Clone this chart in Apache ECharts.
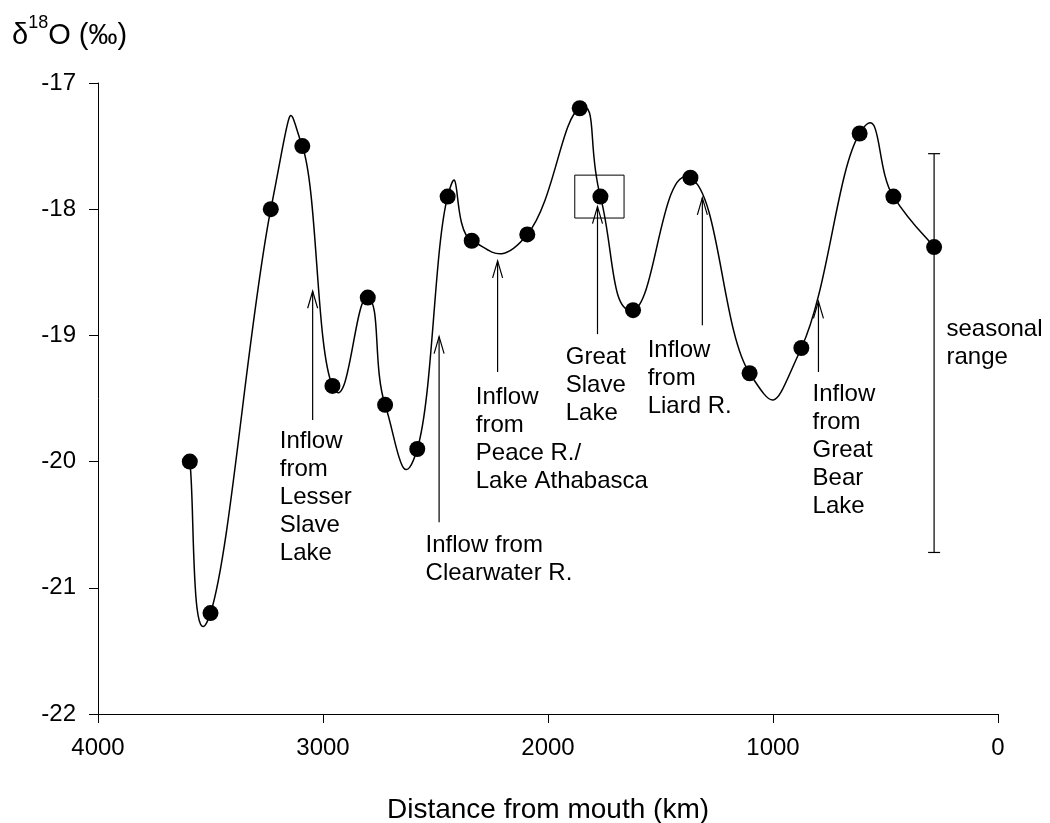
<!DOCTYPE html>
<html><head><meta charset="utf-8">
<script src="https://cdn.jsdelivr.net/npm/echarts@6/dist/echarts.min.js"></script>
<style>html,body{margin:0;padding:0;background:#fff}#c{width:1050px;height:823px}</style>
</head><body><div id="c"></div>
<script>
// ---- data ----
const distanceKm = [3592, 3500, 3232, 3092, 2958, 2801, 2724, 2581, 2446, 2339, 2092, 1859, 1767, 1622, 1367, 1104, 874, 615, 465, 284];
const delta18O   = [-20.0, -21.2, -18.0, -17.5, -19.4, -18.7, -19.55, -19.9, -17.9, -18.25, -18.2, -17.2, -17.9, -18.8, -17.75, -19.3, -19.1, -17.4, -17.9, -18.3];
const xTickValues = [4000, 3000, 2000, 1000, 0];
const yTickValues = [-17, -18, -19, -20, -21, -22];

// annotation arrows (data units): x, tip, base
const arrowX    = [3046, 2484, 2224, 1780, 1314, 798];
const arrowTip  = [-18.65, -19.01, -18.41, -17.98, -17.91, -18.73];
const arrowBase = [-19.67, -20.48, -19.29, -18.99, -18.92, -19.29];

// annotation texts, anchored at top-left (data units)
const labelText = [
  'Inflow\nfrom\nLesser\nSlave\nLake',
  'Inflow from\nClearwater R.',
  'Inflow\nfrom\nPeace R./\nLake Athabasca',
  'Great\nSlave\nLake',
  'Inflow\nfrom\nLiard R.',
  'Inflow\nfrom\nGreat\nBear\nLake',
  'seasonal\nrange'
];
const labelX = [3192, 2544, 2321, 1921, 1557, 824, 229];
const labelY = [-19.73, -20.55, -19.38, -19.06, -19.01, -19.36, -18.84];

// seasonal range bar
const rangeX = [284];
const rangeTop = [-17.56];
const rangeBottom = [-20.72];

// box around Great Slave Lake point
const boxX = [1881, 1662];
const boxY = [-17.73, -18.07];

// ---- chart ----
const FONT = "'Liberation Sans', Arial, Helvetica, sans-serif";
const SMOOTH_K = 0.25;
const chart = echarts.init(document.getElementById('c'), null, {renderer: 'canvas'});

const segments = distanceKm.slice(0, -1).map((d, i) => [d, delta18O[i], distanceKm[i + 1], delta18O[i + 1]]);

const option = {
  backgroundColor: '#fff',
  animation: false,
  grid: {left: 98, right: 52, top: 83, bottom: 109, containLabel: false, outerBoundsMode: 'none'},
  xAxis: {
    type: 'value', inverse: true, min: 0, max: 4000, interval: 1000,
    name: 'Distance from mouth (km)', nameLocation: 'middle', nameGap: 82,
    nameTextStyle: {fontFamily: FONT, fontSize: 28, color: '#000'},
    axisLine: {show: true, onZero: false, lineStyle: {color: '#000', width: 1}},
    axisTick: {show: true, inside: false, length: 9, lineStyle: {color: '#000', width: 1}},
    axisLabel: {fontFamily: FONT, fontSize: 24, color: '#000', margin: 22,
      formatter: v => xTickValues.includes(v) ? String(v) : ''},
    splitLine: {show: false}
  },
  yAxis: {
    type: 'value', min: -22, max: -17, interval: 1,
    axisLine: {show: true, onZero: false, lineStyle: {color: '#000', width: 1}},
    axisTick: {show: true, inside: false, length: 9, lineStyle: {color: '#000', width: 1}},
    axisLabel: {fontFamily: FONT, fontSize: 24, color: '#000', margin: 22,
      formatter: v => yTickValues.includes(v) ? String(v) : ''},
    splitLine: {show: false}
  },
  graphic: [{
    type: 'text', left: 12, top: 14,
    style: {
      text: '{a|δ}{b|18}{a|O (‰)}',
      rich: {
        a: {fontFamily: FONT, fontSize: 29, lineHeight: 36, fill: '#000', verticalAlign: 'bottom'},
        b: {fontFamily: FONT, fontSize: 18, lineHeight: 22, fill: '#000', verticalAlign: 'top'}
      }
    }
  }],
  series: [
    {
      // smoothed curve through the samples (cardinal spline, pixel space via axis scales)
      type: 'custom', name: 'curve', silent: true,
      data: segments,
      encode: {x: [0, 2], y: [1, 3]},
      renderItem: (params, api) => {
        const i = params.dataIndex;
        const n = distanceKm.length;
        const pt = j => api.coord([distanceKm[j], delta18O[j]]);
        const p0 = pt(Math.max(i - 1, 0)), p1 = pt(i), p2 = pt(i + 1), p3 = pt(Math.min(i + 2, n - 1));
        return {
          type: 'bezierCurve',
          shape: {
            x1: p1[0], y1: p1[1], x2: p2[0], y2: p2[1],
            cpx1: p1[0] + SMOOTH_K * (p2[0] - p0[0]), cpy1: p1[1] + SMOOTH_K * (p2[1] - p0[1]),
            cpx2: p2[0] - SMOOTH_K * (p3[0] - p1[0]), cpy2: p2[1] - SMOOTH_K * (p3[1] - p1[1])
          },
          style: {stroke: '#000', fill: null, lineWidth: 1.5}
        };
      },
      z: 4
    },
    {
      type: 'scatter', name: 'δ18O',
      data: distanceKm.map((d, i) => [d, delta18O[i]]),
      symbol: 'circle', symbolSize: 16,
      itemStyle: {color: '#000', opacity: 1},
      z: 5
    },
    {
      type: 'custom', name: 'arrows', silent: true,
      data: arrowX.map((x, i) => [x, arrowTip[i], arrowBase[i]]),
      encode: {x: 0, y: [1, 2]},
      renderItem: (params, api) => {
        const tip = api.coord([api.value(0), api.value(1)]);
        const base = api.coord([api.value(0), api.value(2)]);
        return {
          type: 'group', children: [
            {type: 'line', shape: {x1: base[0], y1: base[1], x2: tip[0], y2: tip[1]},
             style: {stroke: '#000', lineWidth: 1.2}},
            {type: 'polyline', shape: {points: [[tip[0] - 5, tip[1] + 17], [tip[0], tip[1]], [tip[0] + 5, tip[1] + 17]]},
             style: {stroke: '#000', fill: null, lineWidth: 1.2}}
          ]
        };
      },
      z: 3
    },
    {
      type: 'custom', name: 'range', silent: true,
      data: rangeX.map((x, i) => [x, rangeTop[i], rangeBottom[i]]),
      encode: {x: 0, y: [1, 2]},
      renderItem: (params, api) => {
        const t = api.coord([api.value(0), api.value(1)]);
        const b = api.coord([api.value(0), api.value(2)]);
        return {
          type: 'group', children: [
            {type: 'line', shape: {x1: t[0], y1: t[1], x2: b[0], y2: b[1]}, style: {stroke: '#000', lineWidth: 1.2}},
            {type: 'line', shape: {x1: t[0] - 6, y1: t[1], x2: t[0] + 6, y2: t[1]}, style: {stroke: '#000', lineWidth: 1.2}},
            {type: 'line', shape: {x1: b[0] - 6, y1: b[1], x2: b[0] + 6, y2: b[1]}, style: {stroke: '#000', lineWidth: 1.2}}
          ]
        };
      },
      z: 3
    },
    {
      type: 'custom', name: 'box', silent: true,
      data: [[boxX[0], boxY[0], boxX[1], boxY[1]]],
      encode: {x: [0, 2], y: [1, 3]},
      renderItem: (params, api) => {
        const p1 = api.coord([api.value(0), api.value(1)]);
        const p2 = api.coord([api.value(2), api.value(3)]);
        return {
          type: 'rect',
          shape: {x: Math.min(p1[0], p2[0]), y: Math.min(p1[1], p2[1]),
                  width: Math.abs(p2[0] - p1[0]), height: Math.abs(p2[1] - p1[1])},
          style: {stroke: '#000', fill: null, lineWidth: 1}
        };
      },
      z: 3
    },
    {
      type: 'custom', name: 'labels', silent: true,
      data: labelX.map((x, i) => [x, labelY[i]]),
      encode: {x: 0, y: 1},
      renderItem: (params, api) => {
        const p = api.coord([api.value(0), api.value(1)]);
        return {
          type: 'text', x: p[0], y: p[1],
          style: {text: labelText[params.dataIndex], fontFamily: FONT, fontSize: 24,
                  lineHeight: 28, fill: '#000', align: 'left', verticalAlign: 'top'}
        };
      },
      z: 4
    }
  ]
};
chart.setOption(option);
</script>
</body></html>
